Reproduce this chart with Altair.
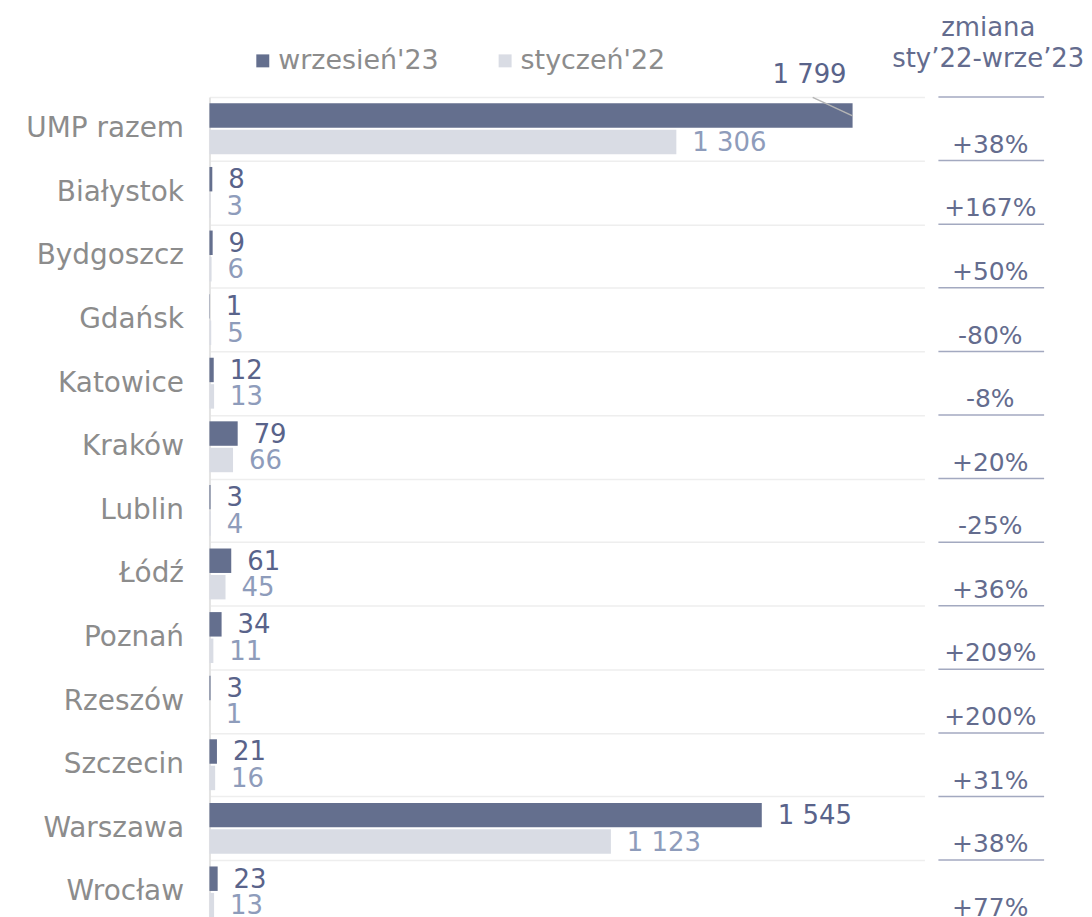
import altair as alt
import pandas as pd

# ---- data ----
cities = ["UMP razem", "Białystok", "Bydgoszcz", "Gdańsk", "Katowice", "Kraków",
          "Lublin", "Łódź", "Poznań", "Rzeszów", "Szczecin", "Warszawa", "Wrocław"]
sep23 = [1799, 8, 9, 1, 12, 79, 3, 61, 34, 3, 21, 1545, 23]
jan22 = [1306, 3, 6, 5, 13, 66, 4, 45, 11, 1, 16, 1123, 13]
changes = ["+38%", "+167%", "+50%", "-80%", "-8%", "+20%", "-25%",
           "+36%", "+209%", "+200%", "+31%", "+38%", "+77%"]
series_names = ["wrzesień'23", "styczeń'22"]
header_lines = ["zmiana", "sty’22-wrze’23"]

# ---- styling ----
FONT = "DejaVu Sans"
DARK = "#646f8e"
LIGHT = "#d9dce4"
DARK_TXT = "#59638a"
LIGHT_TXT = "#8e9cbb"
GREY_TXT = "#8c8c8c"
CHG_TXT = "#646c8e"
RULE_COL = "#a3a9c0"

rows = []
for c, a, b in zip(cities, sep23, jan22):
    for s, v in zip(series_names, (a, b)):
        rows.append({
            "city": c, "series": s, "value": v,
            "label": f"{v:,}".replace(",", " "),
            "special": bool(c == cities[0] and s == series_names[0]),
        })
df = pd.DataFrame(rows)
chg_df = pd.DataFrame({"city": cities, "change": changes})
top_df = pd.DataFrame({"city": cities[:1]})

y_axis = alt.Axis(title=None, tickBand="extent", grid=True, gridColor="#eeeeee",
                  gridWidth=1.5, ticks=False, domainColor="#e3e3e3", domainWidth=2,
                  labelFontSize=28, labelColor=GREY_TXT, labelFont=FONT,
                  labelPadding=26)
y_scale = alt.Scale(paddingInner=0, paddingOuter=0)


def Y(**kw):
    return alt.Y("city:N", sort=cities, scale=y_scale, axis=y_axis, **kw)


yoff = alt.YOffset("series:N", sort=series_names,
                   scale=alt.Scale(paddingInner=0.075, paddingOuter=0.24))
X = alt.X("value:Q", scale=alt.Scale(domain=[0, 2000], nice=False), axis=None)

base = alt.Chart(df)

bars = base.mark_bar().encode(
    x=X, y=Y(), yOffset=yoff,
    color=alt.Color("series:N", scale=alt.Scale(domain=series_names, range=[DARK, LIGHT]),
                    legend=alt.Legend(title=None, orient="none", legendX=40, legendY=-50,
                                      direction="horizontal", symbolType="square",
                                      symbolSize=169, symbolStrokeWidth=0,
                                      labelFontSize=27, labelFont=FONT, labelLimit=0,
                                      labelColor=GREY_TXT, columnPadding=52,
                                      labelOffset=2, padding=0)),
)

labels = base.transform_filter("!datum.special").mark_text(
    align="left", baseline="middle", dx=16, dy=1, fontSize=26, font=FONT
).encode(
    x=X, y=Y(), yOffset=yoff, text="label:N",
    color=alt.condition(alt.datum.series == series_names[0],
                        alt.value(DARK_TXT), alt.value(LIGHT_TXT)),
)

special = base.transform_filter("datum.special").mark_text(
    align="right", baseline="middle", dx=-6, dy=-41, fontSize=26, font=FONT,
    color=DARK_TXT
).encode(x=X, y=Y(), yOffset=yoff, text="label:N")

leader = base.transform_filter("datum.special").mark_rule(
    color="#b5b5b5", strokeWidth=1.5, yOffset=-13, y2Offset=-31.5, x2Offset=-40
).encode(x=X, x2="value:Q", y=Y(), y2="city:N")

chg_text = alt.Chart(chg_df).mark_text(
    align="center", baseline="middle", dy=16, fontSize=25, font=FONT, color=CHG_TXT
).encode(x=alt.value(783), y=Y(), text="change:N")

chg_rules = alt.Chart(chg_df).mark_rule(color=RULE_COL, strokeWidth=1.5).encode(
    x=alt.value(731), x2=alt.value(837), y=Y(bandPosition=1)
)
top_rule = alt.Chart(top_df).mark_rule(color=RULE_COL, strokeWidth=1.5).encode(
    x=alt.value(731), x2=alt.value(837), y=Y(bandPosition=0)
)

header = alt.Chart(alt.Data(values=[{"k": 0}])).mark_text(
    text=header_lines, align="center", baseline="alphabetic", lineHeight=31,
    fontSize=26, font=FONT, color=CHG_TXT
).encode(x=alt.value(781), y=alt.value(-61))

chart = alt.layer(bars, labels, special, leader, chg_text, chg_rules, top_rule, header).properties(
    width=717, height=829,
    padding={"left": 202, "top": 88, "right": 160, "bottom": -8},
    autosize=alt.AutoSizeParams(type="none"),
).configure_view(strokeWidth=0)

chart.save("out.html", embed_options={"renderer": "svg", "actions": False})
